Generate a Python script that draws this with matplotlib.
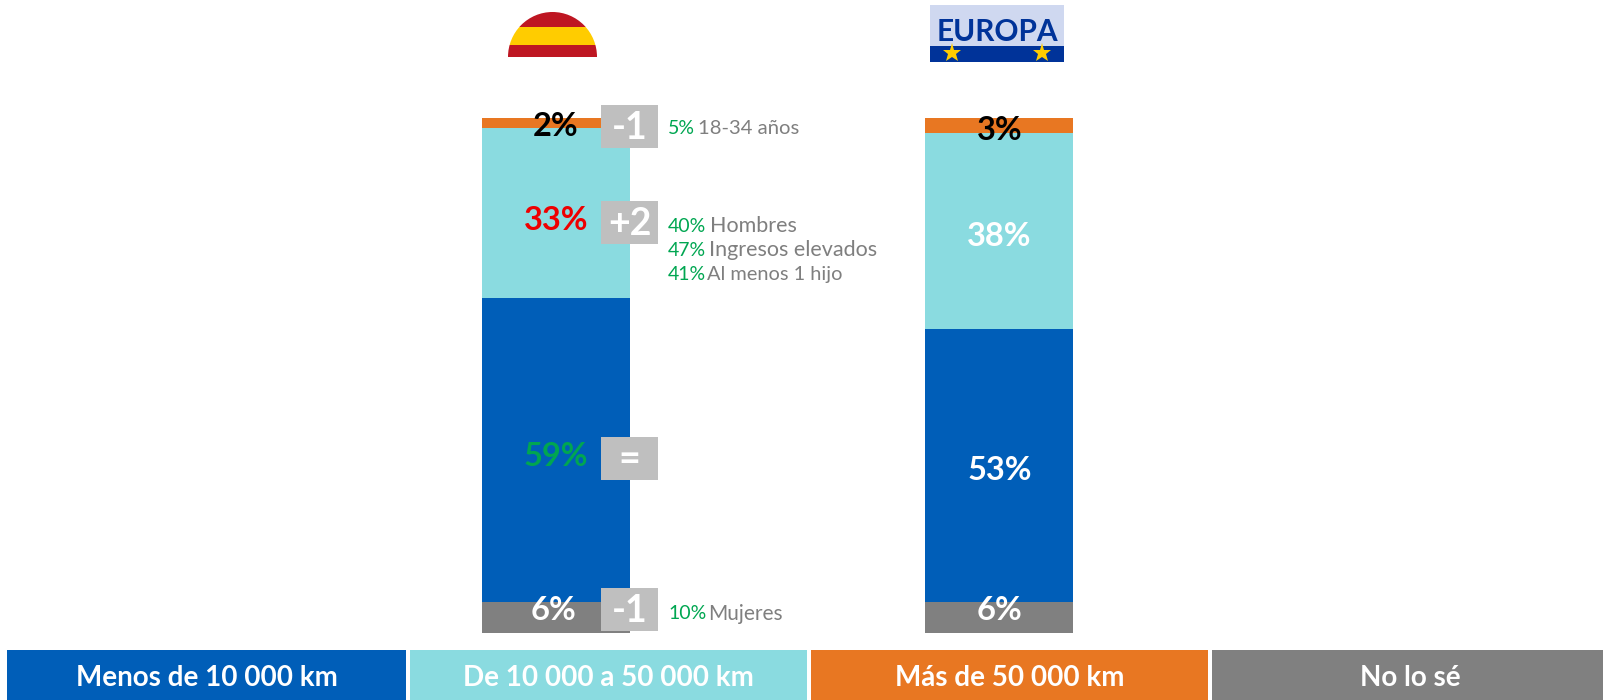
import matplotlib
matplotlib.use("Agg")
import matplotlib.pyplot as plt
from matplotlib.patches import Rectangle, Ellipse

plt.rcParams['font.family'] = ['Lato', 'DejaVu Sans']

W, H = 1603, 700

regiones = ["España", "Europa"]
categorias = ["No lo sé", "Menos de 10 000 km", "De 10 000 a 50 000 km", "Más de 50 000 km"]
colores = ["#808080", "#005EB8", "#8ADBE0", "#E87722"]
espana = [6, 59, 33, 2]
europa = [6, 53, 38, 3]

color_espana = ["white", "#00A651", "#EE0000", "black"]
color_europa = ["white", "white", "white", "black"]
label_y_espana = [610, 457, 220, 127]
label_y_europa = [610, 470, 236, 130]

evoluciones = ["-1", "=", "+2", "-1"]
cajas_y = [588, 437, 201, 105]

perfiles_pct = ["5%", "40%", "47%", "41%", "10%"]
perfiles_txt = ["18-34 años", "Hombres", "Ingresos elevados", "Al menos 1 hijo", "Mujeres"]
perfiles_x = [698, 710, 709, 707, 708]
perfiles_y = [128.5, 226.5, 250, 274.5, 613.5]
perfiles_fs = [14.6, 15.5, 15.5, 14.4, 15]

leyenda_x = [(7, 406), (410, 807), (811, 1208), (1212, 1603)]
leyenda_txt = ["Menos de 10 000 km", "De 10 000 a 50 000 km", "Más de 50 000 km", "No lo sé"]
leyenda_col = ["#005EB8", "#8ADBE0", "#E87722", "#808080"]

fig = plt.figure(figsize=(W / 100, H / 100), dpi=100)

# barras
ax = fig.add_axes([481.5 / W, (H - 633) / H, 592 / W, 515.4 / H])
ancho = 148.5 / 443.5
ax.set_xlim(-ancho / 2, 1 + ancho / 2)
ax.set_ylim(0, 100)
ax.axis("off")
for i, vals in enumerate([espana, europa]):
    base = 0
    for v, c in zip(vals, colores):
        ax.bar(i, v, ancho, bottom=base, color=c, linewidth=0)
        base += v

# capa en pixeles para lo demas
top = fig.add_axes([0, 0, 1, 1])
top.patch.set_alpha(0)
top.set_xlim(0, W)
top.set_ylim(H, 0)
top.axis("off")

for v, c, y in zip(espana, color_espana, label_y_espana):
    x = 554 if v == 6 else 556
    top.text(x, y, f"{v}%", color=c, fontsize=23.5, fontweight="bold", ha="center", va="center")
for v, c, y in zip(europa, color_europa, label_y_europa):
    top.text(999.5, y, f"{v}%", color=c, fontsize=23.5, fontweight="bold", ha="center", va="center")

for t, y in zip(evoluciones, cajas_y):
    top.add_patch(Rectangle((601, y), 57, 43, color="#BFBFBF", linewidth=0))
    top.text(629.5, y + 23, t, color="white", fontsize=27, fontweight="bold", ha="center", va="center")

for p, t, x, y, fs in zip(perfiles_pct, perfiles_txt, perfiles_x, perfiles_y, perfiles_fs):
    top.text(668, y, p, color="#00A651", fontsize=14, ha="left", va="center")
    top.text(x, y, t, color="#7F7F7F", fontsize=fs, ha="left", va="center")

for (x0, x1), t, c in zip(leyenda_x, leyenda_txt, leyenda_col):
    top.add_patch(Rectangle((x0, 650), x1 - x0, 50, color=c, linewidth=0))
    xt = (x0 + x1) / 2 + (3 if t == "No lo sé" else 0)
    top.text(xt, 678, t, color="white", fontsize=20, fontweight="bold", ha="center", va="center")

# bandera
clip = Ellipse((552.5, 57), 89, 90, transform=top.transData)
for y0, y1, c in [(12, 27, "#BE1622"), (27, 45, "#FFCC00"), (45, 57, "#BE1622")]:
    r = Rectangle((505, y0), 95, y1 - y0, color=c, linewidth=0)
    top.add_patch(r)
    r.set_clip_path(clip)

# logo Europa
top.add_patch(Rectangle((930, 5), 134, 41, color="#CFD8F0", linewidth=0))
top.add_patch(Rectangle((930, 46), 134, 16, color="#003399", linewidth=0))
top.text(997, 32, "EUROPA", color="#003399", fontsize=21.5, fontweight="bold", ha="center", va="center")
top.plot([952, 1042], [53, 53], ls="", marker="*", ms=14, color="#FFCC00", mew=0)

fig.savefig("out.png", dpi=100)
